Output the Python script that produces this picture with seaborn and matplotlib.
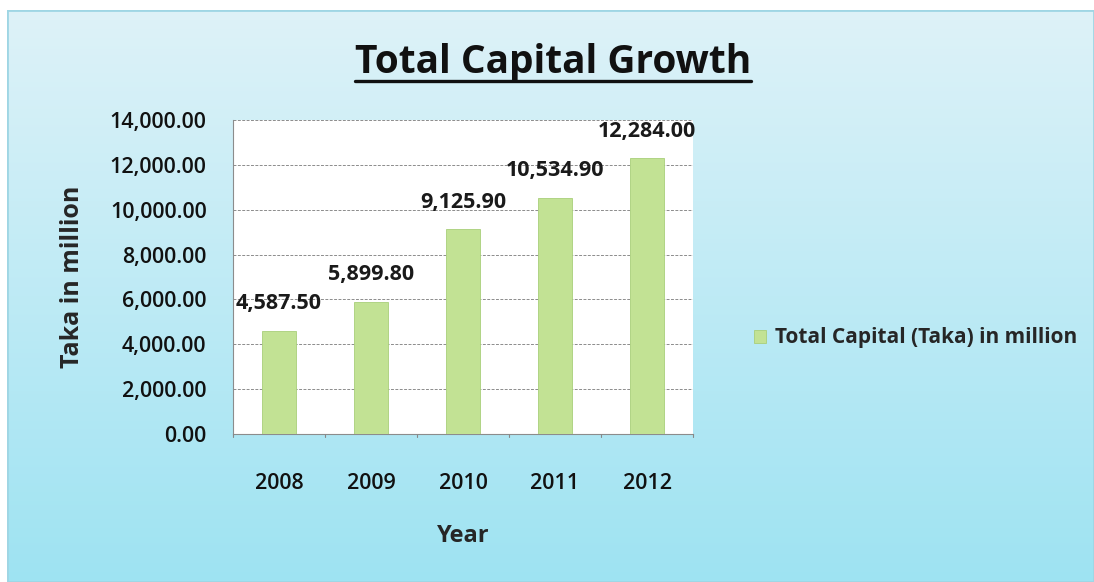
import numpy as np
import pandas as pd
import matplotlib
matplotlib.use("Agg")
import matplotlib.pyplot as plt
from matplotlib.lines import Line2D
import seaborn as sns

years = ["2008", "2009", "2010", "2011", "2012"]
capital = [4587.50, 5899.80, 9125.90, 10534.90, 12284.00]
yticks = [0, 2000, 4000, 6000, 8000, 10000, 12000, 14000]
series_name = "Total Capital (Taka) in million"

sns.set_theme(style="white")
plt.rcParams["font.family"] = ["Open Sans", "DejaVu Sans"]

W, H = 1094, 582
fig = plt.figure(figsize=(W / 100, H / 100), dpi=100)
fig.patch.set_facecolor("white")

# gradient panel behind the chart
bg = fig.add_axes([7 / W, 0, 1 - 7 / W, 1 - 10 / H], zorder=0)
top = np.array([222, 242, 248]) / 255
bot = np.array([158, 227, 242]) / 255
t = np.linspace(0, 1, 256)[:, None]
grad = (top[None, :] * (1 - t) + bot[None, :] * t)
grad = np.repeat(grad[:, None, :], 2, axis=1)
bg.imshow(grad, aspect="auto", extent=[0, 1, 0, 1], origin="upper")
bg.set_axis_off()
frame = plt.Rectangle((0, 0), 1, 1, transform=bg.transAxes, fill=False,
                      edgecolor="#9fd6e4", linewidth=2.0)
bg.add_patch(frame)

ax = fig.add_axes([233 / W, 1 - 434 / H, 460 / W, 314 / H], zorder=2)
ax.set_facecolor("white")

df = pd.DataFrame({"Year": years, "Capital": capital})
sns.barplot(data=df, x="Year", y="Capital", color="#c2e294", width=0.38,
            saturation=1, ax=ax, label=series_name,
            edgecolor="#a9cf7a", linewidth=0.6, zorder=3)

ax.set_ylim(0, 14000)
ax.set_xlim(-0.5, len(years) - 0.5)
ax.set_yticks(yticks)
ax.set_yticklabels([f"{v:,.2f}" for v in yticks], fontsize=15.5, color="#111111",
                   fontweight="semibold")
ax.tick_params(axis="y", length=4, color="#888888", pad=15)
ax.set_xticks(range(len(years)))
ax.set_xticklabels(years, fontsize=15.5, color="#111111", fontweight="semibold")
ax.tick_params(axis="x", length=0, pad=28)
# category boundary ticks along the bottom
for b in np.arange(-0.5, len(years), 1.0):
    ax.plot([b, b], [0, -150], color="#888888", lw=0.8, clip_on=False, zorder=4)

ax.yaxis.grid(True, color="#8c8c8c", linewidth=0.7, linestyle=(0, (3, 1.5)), zorder=0)
ax.set_axisbelow(True)
for side in ["top", "right"]:
    ax.spines[side].set_visible(False)
for side in ["left", "bottom"]:
    ax.spines[side].set_color("#8c8c8c")
    ax.spines[side].set_linewidth(0.8)

for i, v in enumerate(capital):
    ax.annotate(f"{v:,.2f}", (i, v), xytext=(0, 12), textcoords="offset points",
                ha="center", va="bottom", fontsize=15.5, fontweight="bold",
                color="#1a1a1a", annotation_clip=False)

ax.set_xlabel("Year", fontsize=17, fontweight="bold", labelpad=22)
ax.set_ylabel("Taka in million", fontsize=18, fontweight="bold", labelpad=18)

leg = ax.legend(loc="center left", bbox_to_anchor=(735 / W, 1 - 338 / H),
                bbox_transform=fig.transFigure, frameon=False,
                prop={"size": 15, "weight": "bold"},
                handlelength=0.6, handleheight=0.6, handletextpad=0.4)

title = fig.text(553 / W, 1 - 62 / H, "Total Capital Growth", ha="center", va="center",
                 fontsize=28, fontweight="bold", color="#111111")
fig.canvas.draw()
bb = title.get_window_extent(fig.canvas.get_renderer()).transformed(fig.transFigure.inverted())
uy = bb.y0 + 1 / H
fig.add_artist(Line2D([bb.x0, bb.x1], [uy, uy], transform=fig.transFigure,
                      color="#111111", linewidth=2.4))

fig.savefig("out.png", dpi=100)
